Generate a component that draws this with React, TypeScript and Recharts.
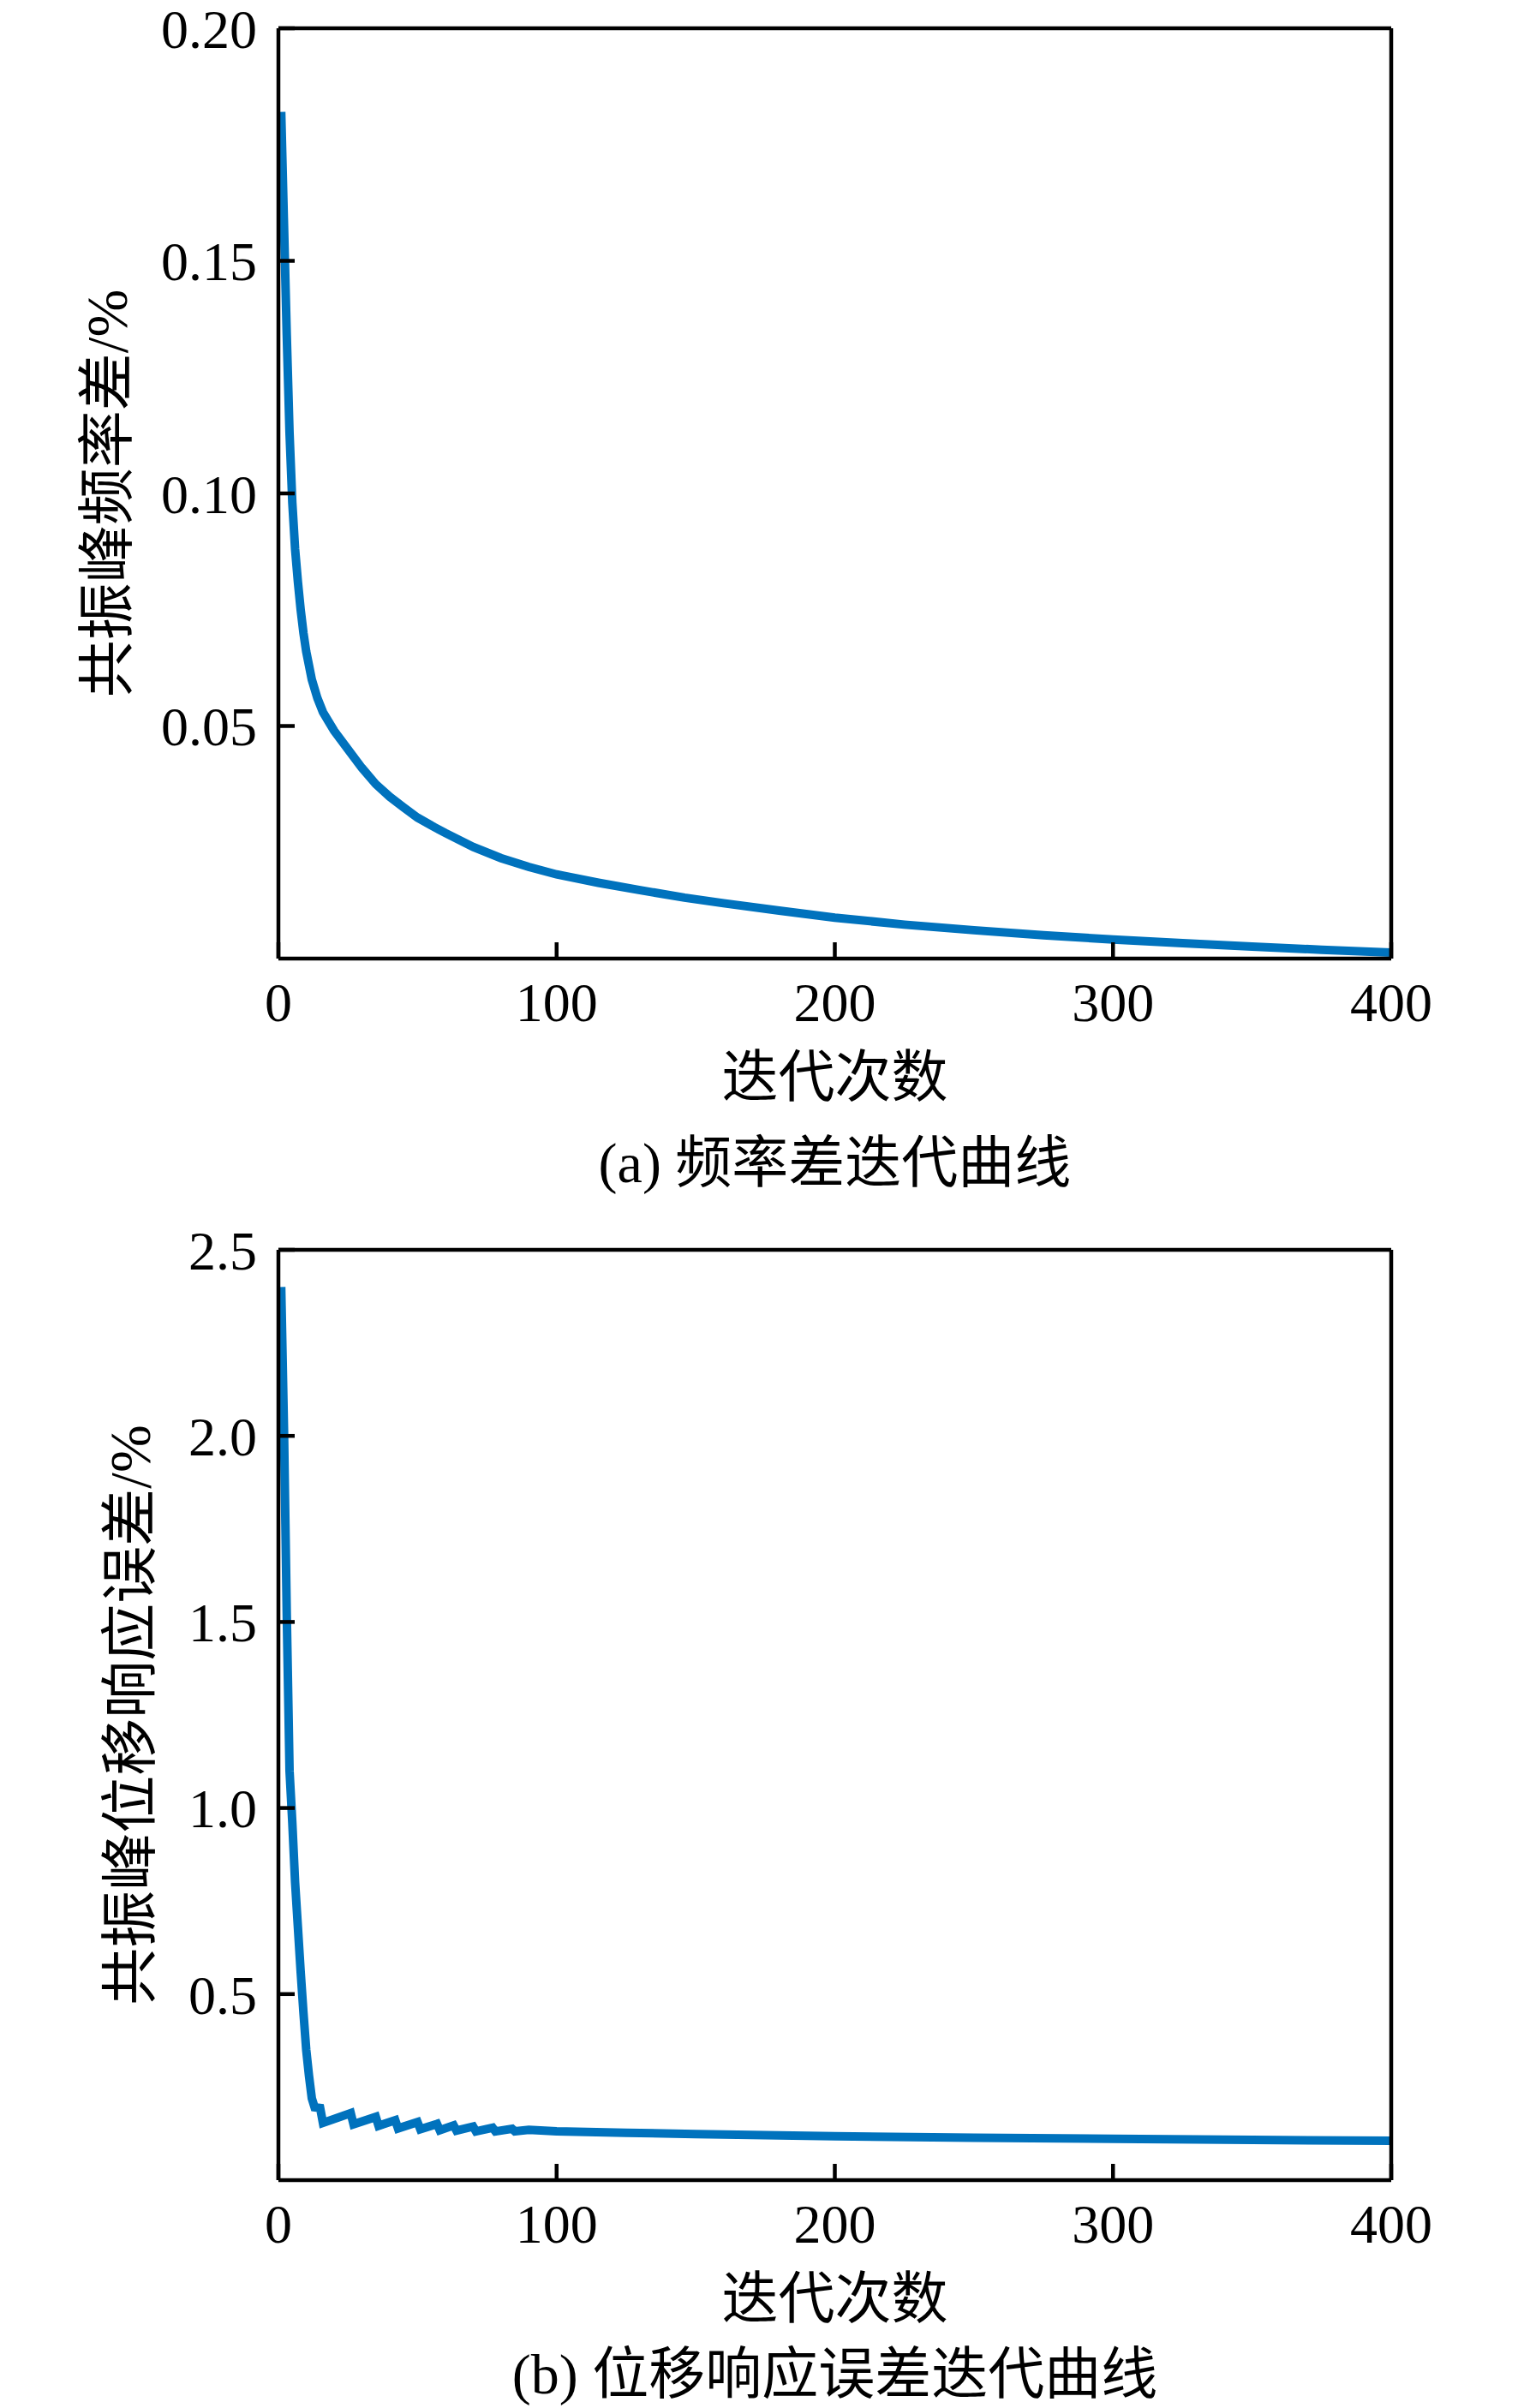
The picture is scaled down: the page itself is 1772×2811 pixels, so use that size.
import React from 'react';
import { LineChart, Line, XAxis, YAxis, Label } from 'recharts';

// (a) resonance-peak frequency error vs iteration
const iterA = [1, 2, 3, 4, 5, 6, 7, 8, 9, 10, 12, 14, 16, 18, 20, 25, 30, 35, 40, 45, 50, 55, 60, 70, 80, 90, 100, 115, 130, 146, 160, 180, 200, 225, 250, 275, 300, 325, 350, 375, 400];
const freqErr = [0.182, 0.158, 0.134, 0.113, 0.098, 0.088, 0.081, 0.075, 0.070, 0.066, 0.060, 0.056, 0.053, 0.051, 0.049, 0.045, 0.041, 0.0375, 0.0348, 0.0325, 0.0303, 0.0286, 0.027, 0.024, 0.0216, 0.0197, 0.0181, 0.0163, 0.0147, 0.0131, 0.0119, 0.0103, 0.0088, 0.0073, 0.0061, 0.005, 0.0041, 0.0033, 0.0026, 0.0019, 0.0013];

// (b) resonance-peak displacement response error vs iteration
const iterB = [1, 2, 3, 4, 5, 6, 7, 8, 9, 10, 11, 12, 13, 15, 16, 26, 27, 35, 36, 42, 43, 50, 51, 57, 58, 63, 64, 70, 71, 77, 78, 84, 85, 90, 100, 125, 150, 175, 200, 250, 300, 350, 400];
const dispErr = [2.4, 2.02, 1.52, 1.1, 0.96, 0.8, 0.68, 0.56, 0.45, 0.35, 0.28, 0.22, 0.196, 0.194, 0.154, 0.18, 0.15, 0.17, 0.146, 0.161, 0.139, 0.156, 0.137, 0.151, 0.134, 0.147, 0.133, 0.144, 0.131, 0.141, 0.131, 0.138, 0.131, 0.135, 0.131, 0.127, 0.124, 0.121, 0.118, 0.114, 0.111, 0.108, 0.106];

const xTicks = [0, 100, 200, 300, 400];
const yTicksA = [0.05, 0.1, 0.15, 0.2];
const yTicksB = [0.5, 1.0, 1.5, 2.0, 2.5];

const dataA = iterA.map((iter, i) => ({ iter, value: freqErr[i] }));
const dataB = iterB.map((iter, i) => ({ iter, value: dispErr[i] }));

const FONT = "'Liberation Serif', 'Noto Sans CJK SC', serif";
const BLUE = '#0072BD';
const black = { stroke: '#000', strokeWidth: 4.5 };

function Panel({ top, data, yMax, yTicks, digits, yTitle, yTitleX, yTitleSize, caption, captionY }: any) {
  const xTitle = (props: any) => {
    const { x, y, width } = props.viewBox;
    const cx = x + width / 2;
    return (
      <g>
        <text x={cx} y={y + 138} textAnchor="middle" dominantBaseline="central" fontSize={66} fontFamily={FONT} fill="#000">
          迭代次数
        </text>
        <text x={cx} y={y + captionY} textAnchor="middle" dominantBaseline="central" fontSize={66} fontFamily={FONT} fill="#000">
          {caption}
        </text>
      </g>
    );
  };

  const yTitleFn = (props: any) => {
    const { x, y, height } = props.viewBox;
    const cx = x + yTitleX;
    const cy = y + height / 2;
    return (
      <text
        x={cx}
        y={cy}
        transform={`rotate(-90 ${cx} ${cy})`}
        textAnchor="middle"
        dominantBaseline="central"
        fontSize={yTitleSize}
        fontFamily={FONT}
        fill="#000"
      >
        {yTitle}
      </text>
    );
  };

  const tickStyle = { fill: '#000', fontSize: 64, fontFamily: FONT };

  return (
    <div style={{ position: 'absolute', left: 0, top }}>
      <LineChart width={1772} height={1426} data={data} margin={{ top: 33, right: 148, bottom: 0, left: 0 }}>
        <XAxis
          dataKey="iter"
          type="number"
          domain={[0, 400]}
          ticks={xTicks}
          interval={0}
          height={307}
          tickSize={-19}
          tickMargin={47}
          axisLine={black}
          tickLine={black}
          tick={tickStyle}
        >
          <Label content={xTitle} />
        </XAxis>
        <XAxis
          xAxisId="top"
          orientation="top"
          mirror
          type="number"
          domain={[0, 400]}
          allowDataOverflow
          ticks={[100, 200, 300]}
          interval={0}
          tick={false}
          tickSize={19}
          axisLine={black}
          tickLine={black}
        />
        <YAxis
          type="number"
          domain={[0, yMax]}
          ticks={yTicks}
          interval={0}
          width={325}
          tickSize={-19}
          tickMargin={44}
          tickFormatter={(v: number) => v.toFixed(digits)}
          axisLine={black}
          tickLine={black}
          tick={tickStyle}
        >
          <Label content={yTitleFn} />
        </YAxis>
        <YAxis
          yAxisId="right"
          orientation="right"
          mirror
          type="number"
          domain={[0, yMax]}
          allowDataOverflow
          ticks={yTicks.filter((t: number) => t < yMax)}
          interval={0}
          tick={false}
          tickSize={19}
          axisLine={black}
          tickLine={black}
        />
        <Line
          dataKey="value"
          type="linear"
          stroke={BLUE}
          strokeWidth={10}
          dot={false}
          isAnimationActive={false}
        />
      </LineChart>
    </div>
  );
}

export default function App() {
  return (
    <div
      style={{
        position: 'absolute',
        left: 0,
        top: 0,
        width: 1772,
        height: 2811,
        overflow: 'hidden',
        background: '#fff',
      }}
    >
      <Panel
        top={0}
        data={dataA}
        yMax={0.2}
        yTicks={yTicksA}
        digits={2}
        yTitle="共振峰频率差/%"
        yTitleX={125}
        yTitleSize={67}
        caption="(a) 频率差迭代曲线"
        captionY={238}
      />
      <Panel
        top={1426}
        data={dataB}
        yMax={2.5}
        yTicks={yTicksB}
        digits={1}
        yTitle="共振峰位移响应误差/%"
        yTitleX={152}
        yTitleSize={67}
        caption="(b) 位移响应误差迭代曲线"
        captionY={226}
      />
    </div>
  );
}
